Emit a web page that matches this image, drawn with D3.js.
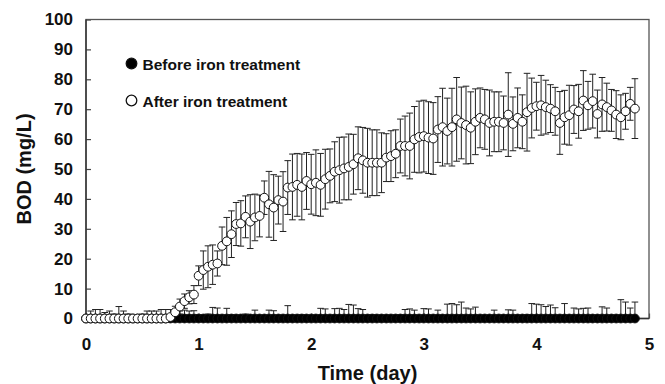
<!DOCTYPE html>
<html>
<head>
<meta charset="utf-8">
<script src="https://cdn.jsdelivr.net/npm/d3@7"></script>
<style>
  html, body { margin: 0; padding: 0; background: #fff; }
  svg { display: block; font-family: "Liberation Sans", Arial, sans-serif; }
</style>
</head>
<body>
<svg id="chart" width="665" height="384"></svg>
<script>
// sampling: one reading per hour, expressed in days
const hoursPerDay = 24;

// After iron treatment (open circles), BOD mg/L, hourly from t=0
const afterValues = [
  0, 0, 0, 0, 0, 0, 0, 0, 0, 0, 0, 0, 0, 0, 0, 0, 0, 0, 0.5,
  2.1, 4, 5.8, 7.1, 8, 14.3, 16.2, 17.3, 18, 18.4,
  24.3, 25.8, 28.2, 31.6, 31.8, 34, 32.4, 33.8, 34.3, 40.4,
  38.2, 37.1, 39.6, 39.1, 43.8,
  44, 44.7, 44, 46, 44.9, 45.4, 44.7, 46.6, 47.7, 49.1,
  49.6, 50.2, 50.7, 51.6, 53.6, 52.9, 52.1, 52.1, 52.1, 52.1,
  53.8, 54.3, 55.1, 57.7, 57.7, 57.7, 59.9, 60.7, 61,
  60.5, 60.2, 63.2, 64, 62.7, 64, 66.6, 65.4, 64.7, 63.8,
  65.8, 67.1, 66.6, 65.4, 65.8, 65.8, 65.4, 68.2, 65.1, 67.1,
  65.8, 69, 70.4, 71, 71.3, 70.7, 70.2, 69.3, 65.4, 67.3,
  68, 69.9, 69.3, 72.9, 71.3, 72.7, 68.4, 71.6, 70.7, 69.6,
  68.2, 67.3, 69.3, 71.8, 70.2
];
const afterErrors = [
  1, 2.5, 3, 3, 2, 2.5, 1.5, 4, 2.5, 1.5, 1, 1, 1.5, 2.5, 2.5, 2.5, 3, 3, 2.5,
  2, 2.5, 2.4, 2.2, 3, 3.3, 6.4, 7, 6.6, 4.2,
  6.3, 8, 7.8, 7.2, 7.6, 7, 9, 7.8, 7, 5.6,
  11, 11, 8, 10, 9,
  11, 10.5, 11, 9.5, 10, 11, 10.5, 10, 9, 10,
  11, 10.5, 11, 10, 10.5, 11, 11.5, 11, 11, 10,
  8, 8.5, 8, 9, 10, 11, 11, 12, 12,
  12, 12, 11, 13, 11, 13, 14, 12, 13, 12,
  11, 10, 10, 11, 10, 10, 9, 14, 9, 10,
  9, 13, 10, 8, 10, 9, 8, 8, 10.5, 9,
  10, 8, 9, 10, 8, 9, 8, 9, 8, 7,
  8, 7.5, 6, 5.5, 10
];

// Before iron treatment (filled circles), BOD mg/L, hourly from t=0
const beforeValues = afterValues.map(() => 0);
const beforeErrors = [
  0.5, 0.5, 0.5, 0.5, 0.5, 0.5, 0.5, 0.5, 0.5, 0.5, 0.5, 0.5, 0.5, 0.5, 0.5, 0.5, 0.5, 0.5,
  1, 1.5, 2.5, 2.8, 2.5, 2.6, 1.2, 1, 1.5, 3.7, 3.5, 1, 3.4, 1.2, 1, 1, 1.5, 1, 2.8, 1, 1,
  2.8, 2.6, 1, 1, 4.3, 1, 1, 1.2, 1, 1, 1, 3.4, 3.2, 1, 3.3, 3.4, 3, 4.7, 4.5, 3.3, 3,
  1, 1.2, 1, 1, 1, 1, 1, 1.2, 3, 3.2, 2.8, 1, 3.3, 3.2, 1, 2.8, 1, 4.8, 5, 4.6,
  5.5, 3.5, 3.2, 3.8, 1, 1, 1, 2.8, 1, 1, 2.9, 2.8, 1, 1, 1.2, 5, 4.8, 4.6, 4, 4.5,
  3.6, 1, 5, 1, 3.5, 3.2, 3.4, 3.5, 1, 1, 3.9, 3.5, 1, 1, 6.3, 5.5, 3.5, 5.5
];

const xTicks = [0, 1, 2, 3, 4, 5];
const yTicks = [0, 10, 20, 30, 40, 50, 60, 70, 80, 90, 100];

const seriesNames = ["Before iron treatment", "After iron treatment"];

// ---- layout ----
const margin = { left: 86, right: 16, top: 19.5, bottom: 65.5 };
const width = 665, height = 384;

const x = d3.scaleLinear().domain([0, 5]).range([margin.left, width - margin.right]);
const y = d3.scaleLinear().domain([0, 100]).range([height - margin.bottom, margin.top]);

const svg = d3.select("#chart");

svg.append("defs").append("clipPath").attr("id", "plotClip")
  .append("rect")
  .attr("x", x(0)).attr("y", y(100))
  .attr("width", x(5) - x(0)).attr("height", y(0) - y(100));

const toPoints = (vals, errs) => vals.map((v, i) => ({ t: i / hoursPerDay, v: v, e: errs[i] }));
const before = toPoints(beforeValues, beforeErrors);
const after = toPoints(afterValues, afterErrors);

// axes with inward ticks
const yAxis = svg.append("g")
  .attr("transform", `translate(${x(0)},0)`)
  .call(d3.axisLeft(y).tickValues(yTicks).tickSizeInner(-5).tickSizeOuter(0).tickPadding(13));
const xAxis = svg.append("g")
  .attr("transform", `translate(0,${y(0)})`)
  .call(d3.axisBottom(x).tickValues(xTicks).tickFormat(d3.format("d")).tickSizeInner(-5).tickSizeOuter(0).tickPadding(19));

[yAxis, xAxis].forEach(a => {
  a.select(".domain").remove();
  a.selectAll(".tick line").attr("stroke", "#444").attr("stroke-width", 1.2);
  a.selectAll(".tick text")
    .attr("fill", "#111")
    .style("font-size", "17px")
    .style("font-weight", "bold")
    .style("font-family", "'Liberation Sans', Arial, sans-serif");
});

// frame
svg.append("rect")
  .attr("x", x(0)).attr("y", y(100))
  .attr("width", x(5) - x(0)).attr("height", y(0) - y(100))
  .attr("fill", "none").attr("stroke", "#555").attr("stroke-width", 1.3);
svg.append("path")
  .attr("d", `M${x(0)},${y(100)}V${y(0)}H${x(5)}`)
  .attr("fill", "none").attr("stroke", "#333").attr("stroke-width", 1.4);

// error bars are clipped to the plot, markers are not
const bars = svg.append("g").attr("clip-path", "url(#plotClip)");
const marks = svg.append("g");
const capHalf = 3.3;

function drawErrorBars(data) {
  bars.append("g").attr("stroke", "#222").attr("stroke-width", 1).attr("fill", "none")
    .selectAll("path")
    .data(data)
    .join("path")
    .attr("d", d => {
      const cx = x(d.t), y1 = y(d.v + d.e), y0 = y(d.v - d.e);
      return `M${cx},${y0}V${y1}M${cx - capHalf},${y1}H${cx + capHalf}M${cx - capHalf},${y0}H${cx + capHalf}`;
    });
}

function drawPoints(data, fill) {
  marks.append("g")
    .selectAll("circle")
    .data(data)
    .join("circle")
    .attr("cx", d => x(d.t))
    .attr("cy", d => y(d.v))
    .attr("r", 4.4)
    .attr("fill", fill)
    .attr("stroke", "#111")
    .attr("stroke-width", 1);
}

drawErrorBars(before);
drawErrorBars(after);
drawPoints(before, "#000");
drawPoints(after, "#fff");

// legend
const legend = svg.append("g");
const legendRows = [
  { name: seriesNames[0], fill: "#000", cy: 63.5 },
  { name: seriesNames[1], fill: "#fff", cy: 100.5 }
];
legendRows.forEach(r => {
  legend.append("circle")
    .attr("cx", 131.5).attr("cy", r.cy).attr("r", 5.3)
    .attr("fill", r.fill).attr("stroke", "#111").attr("stroke-width", 1.3);
  legend.append("text")
    .attr("x", 142.5).attr("y", r.cy + 6)
    .style("font-size", "15.5px").style("font-weight", "bold")
    .attr("fill", "#111")
    .text(r.name);
});

// axis titles
svg.append("text")
  .attr("x", (x(0) + x(5)) / 2).attr("y", 379.5)
  .attr("text-anchor", "middle")
  .style("font-size", "20px").style("font-weight", "bold")
  .attr("fill", "#111")
  .text("Time (day)");

svg.append("text")
  .attr("transform", `translate(31,${(y(0) + y(100)) / 2}) rotate(-90)`)
  .attr("text-anchor", "middle")
  .style("font-size", "20px").style("font-weight", "bold")
  .attr("fill", "#111")
  .text("BOD (mg/L)");
</script>
</body>
</html>
